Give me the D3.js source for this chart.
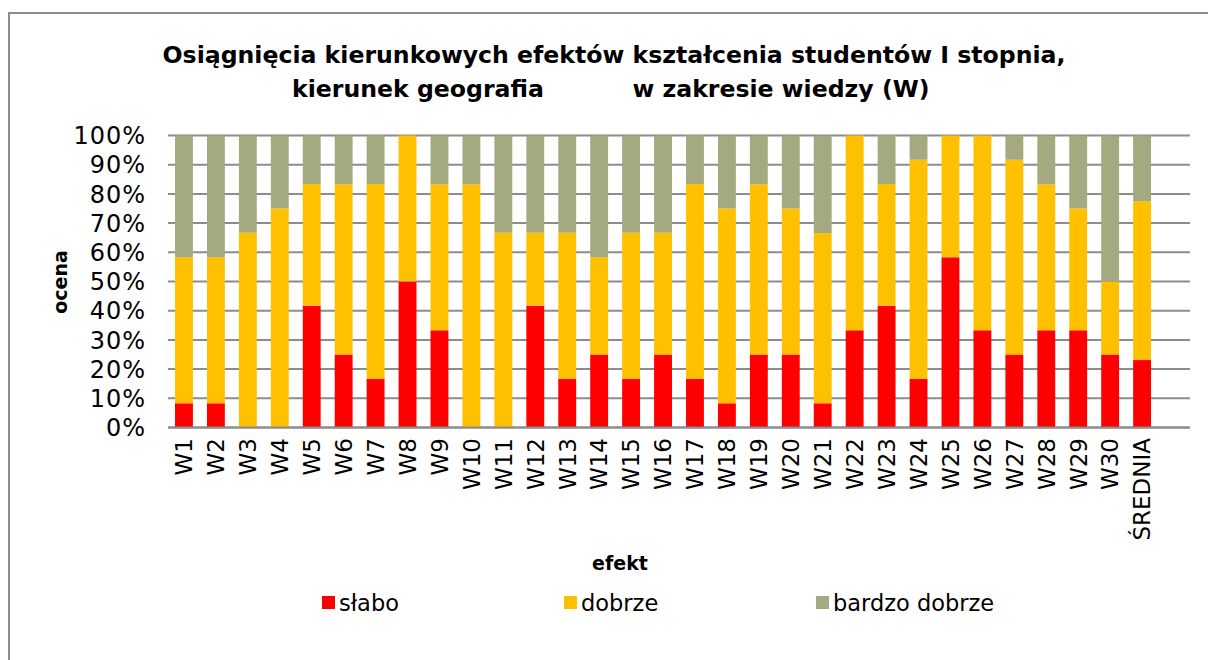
<!DOCTYPE html>
<html>
<head>
<meta charset="utf-8">
<script src="https://cdn.jsdelivr.net/npm/d3@7"></script>
<style>
  body { margin: 0; background: #fff; }
  text { font-family: "DejaVu Sans", sans-serif; }
</style>
</head>
<body>
<div id="chart"></div>
<script>
// categories and the three shares (percent)
const categories = ["W1","W2","W3","W4","W5","W6","W7","W8","W9","W10","W11","W12","W13","W14","W15",
  "W16","W17","W18","W19","W20","W21","W22","W23","W24","W25","W26","W27","W28","W29","W30","ŚREDNIA"];
const slabo = [8.3,8.3,0,0,41.7,25,16.7,50,33.3,0,0,41.7,16.7,25,16.7,
  25,16.7,8.3,25,25,8.3,33.3,41.7,16.7,58.3,33.3,25,33.3,33.3,25,23.1];
const dobrze = [50,50,66.7,75,41.7,58.3,66.7,50,50,83.3,66.7,25,50,33.3,50,
  41.7,66.7,66.7,58.3,50,58.3,66.7,41.7,75,41.7,66.7,66.7,50,41.7,25,54.4];
const bardzoDobrze = [41.7,41.7,33.3,25,16.7,16.7,16.7,0,16.7,16.7,33.3,33.3,33.3,41.7,33.3,
  33.3,16.7,25,16.7,25,33.3,0,16.7,8.3,0,0,8.3,16.7,25,50,22.5];
const seriesNames = ["słabo", "dobrze", "bardzo dobrze"];
const colors = ["#ff0000", "#ffc000", "#a5a97f"];
const yTicks = [0,10,20,30,40,50,60,70,80,90,100];

const width = 1208, height = 660;
const plotLeft = 168, plotRight = 1190, plotTop = 135.5, plotBottom = 427.5;

const svg = d3.select("#chart").append("svg")
  .attr("width", width).attr("height", height);

// outer frame (runs off the right and bottom edges)
svg.append("rect")
  .attr("x", 9).attr("y", 13).attr("width", 1210).attr("height", 660)
  .attr("fill", "none").attr("stroke", "#8c8c8c").attr("stroke-width", 2);

// title
svg.append("text").attr("x", 614).attr("y", 63).attr("text-anchor", "middle")
  .attr("font-size", 23.6).attr("font-weight", "bold")
  .text("Osiągnięcia kierunkowych efektów kształcenia studentów I stopnia,");
svg.append("text").attr("x", 418).attr("y", 97).attr("text-anchor", "middle")
  .attr("font-size", 23.6).attr("font-weight", "bold")
  .text("kierunek geografia");
svg.append("text").attr("x", 781).attr("y", 97).attr("text-anchor", "middle")
  .attr("font-size", 23.6).attr("font-weight", "bold")
  .text("w zakresie wiedzy (W)");

// one extra empty slot at the right end, like the original
const step = (plotRight - plotLeft) / (categories.length + 1);
const x = d3.scaleBand().domain(categories)
  .range([plotLeft, plotLeft + step * categories.length]).paddingInner(0.44).paddingOuter(0.22);
const y = d3.scaleLinear().domain([0, 100]).range([plotBottom, plotTop]);

// gridlines
svg.append("g").selectAll("line").data(yTicks).join("line")
  .attr("x1", plotLeft).attr("x2", plotRight)
  .attr("y1", d => y(d)).attr("y2", d => y(d))
  .attr("stroke", "#8c8c8c").attr("stroke-width", 2);

// y tick labels
svg.append("g").selectAll("text").data(yTicks).join("text")
  .attr("x", 146).attr("y", d => y(d)).attr("dy", "0.36em")
  .attr("text-anchor", "end").attr("font-size", 24).attr("letter-spacing", 1)
  .text(d => d + "%");

// stacked bars
const rows = categories.map((c, i) => ({ cat: c, s0: slabo[i], s1: dobrze[i], s2: bardzoDobrze[i] }));
const stack = d3.stack().keys(["s0", "s1", "s2"])(rows);
svg.append("g").selectAll("g").data(stack).join("g")
  .attr("fill", (d, i) => colors[i])
  .selectAll("rect").data(d => d).join("rect")
  .attr("x", d => x(d.data.cat))
  .attr("width", x.bandwidth())
  .attr("y", d => y(d[1]))
  .attr("height", d => y(d[0]) - y(d[1]));

// x axis line on top of bars
svg.append("line").attr("x1", plotLeft).attr("x2", plotRight)
  .attr("y1", y(0)).attr("y2", y(0))
  .attr("stroke", "#8c8c8c").attr("stroke-width", 2);

// x tick labels, rotated
svg.append("g").selectAll("text").data(categories).join("text")
  .attr("transform", d => `translate(${x(d) + x.bandwidth() / 2},438) rotate(-90)`)
  .attr("text-anchor", "end").attr("dy", "0.36em").attr("font-size", 23)
  .text(d => d);

// axis titles
svg.append("text").attr("transform", "translate(60,282) rotate(-90)")
  .attr("text-anchor", "middle").attr("dy", "0.36em")
  .attr("font-size", 19).attr("font-weight", "bold").text("ocena");
svg.append("text").attr("x", 620).attr("y", 570).attr("text-anchor", "middle")
  .attr("font-size", 19).attr("font-weight", "bold").text("efekt");

// legend
const legendX = [322, 564, 816];
const lg = svg.append("g").selectAll("g").data(seriesNames).join("g")
  .attr("transform", (d, i) => `translate(${legendX[i]},596)`);
lg.append("rect").attr("width", 13).attr("height", 13).attr("fill", (d, i) => colors[i]);
lg.append("text").attr("x", 17).attr("y", 7).attr("dy", "0.36em")
  .attr("font-size", 22.5).text(d => d);
</script>
</body>
</html>
